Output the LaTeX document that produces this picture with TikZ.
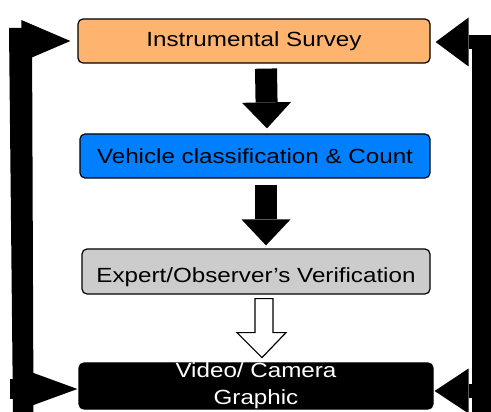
\documentclass[tikz,border=0pt]{standalone}
\usepackage{fontspec}
\setmainfont{Liberation Sans}
\newfontfamily\boxfont[FakeStretch=1.18]{Liberation Sans}
\usetikzlibrary{arrows.meta}
\definecolor{surveyorange}{HTML}{FEB46E}
\definecolor{classblue}{HTML}{007FFF}
\definecolor{verifygray}{HTML}{CCCCCC}
\begin{document}
\begin{tikzpicture}[x=1pt,y=-1pt,
  flowbox/.style={draw=black, line width=1.2pt, rounded corners=5pt, inner sep=0pt,
    font=\boxfont\fontsize{20.5}{27}\selectfont, align=center},
  downarrow/.style={line width=22pt, -{Triangle[length=26pt,width=49pt,line width=0pt]}},
  hollowarrow/.style={fill=white, draw=black, line width=1.2pt, line join=miter},
  sidebar/.style={fill=black}
]
\useasboundingbox (0,0) rectangle (491,412);

% boxes
\node[flowbox, fill=surveyorange, minimum width=352pt, minimum height=44pt] (A) at (254,41) {Instrumental Survey};
\node[flowbox, fill=classblue, minimum width=350pt, minimum height=44pt] (B) at (255,156) {Vehicle classification \& Count};
\node[flowbox, fill=verifygray, minimum width=348pt, minimum height=45pt, text height=21.6pt, text depth=0pt] (C) at (256,271.5) {Expert/Observer’s Verification};
\node[flowbox, fill=black, text=white, minimum width=354pt, minimum height=46pt] (D) at (256,386) {Video/ Camera\\Graphic};

% down arrows
\draw[downarrow] ([xshift=12pt,yshift=-5pt]A.south) -- ([xshift=12pt,yshift=5pt]B.north);
\draw[downarrow] ([xshift=11pt,yshift=-6pt]B.south) -- ([xshift=10pt,yshift=3pt]C.north);
\draw[hollowarrow] ([xshift=-1pt,yshift=-4pt]C.south) -- ++(18,0) -- ++(0,34) -- ++(13,0)
  -- ++(-24,25) -- ++(-25,-25) -- ++(18,0) -- cycle;

% left loop
\fill[sidebar] (9,28) -- (32,28) -- (33.5,414) -- (13,414) -- cycle;
\coordinate (ltop) at (20,41);
\coordinate (lbot) at (10,389);
\draw[line width=25pt, -{Triangle[length=49pt,width=42pt,line width=0pt]}, shorten >=7pt] (ltop) -- (A.west);
\draw[line width=20pt, -{Triangle[length=63pt,width=46pt,line width=0pt]}, shorten >=1pt] (lbot) -- ([yshift=-3pt]D.west);

% right loop
\fill[sidebar] (472,35) rectangle (495,414);
\coordinate (rtop) at (480,42);
\coordinate (rbot) at (480,391);
\draw[line width=14pt, -{Triangle[length=33pt,width=49pt,line width=0pt]}, shorten >=5pt] (rtop) -- ([yshift=-1pt]A.east);
\draw[line width=14pt, -{Triangle[length=34pt,width=45pt,line width=0pt]}, shorten >=1pt] (rbot) -- ([yshift=-5pt]D.east);
\end{tikzpicture}
\end{document}
